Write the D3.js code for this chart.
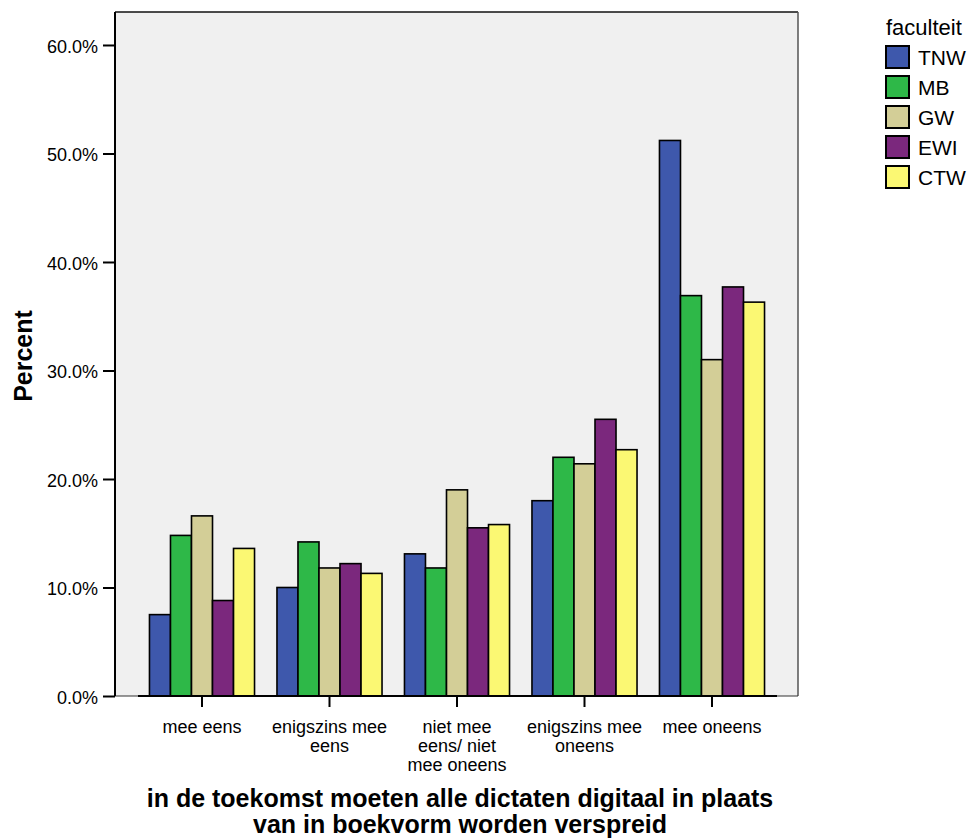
<!DOCTYPE html>
<html>
<head>
<meta charset="utf-8">
<script src="https://cdn.jsdelivr.net/npm/d3@7"></script>
<style>
  body { margin: 0; background: #fff; }
  text { font-family: Arial, "Liberation Sans", sans-serif; }
</style>
</head>
<body>
<svg id="chart" width="973" height="839"></svg>
<script>
const categories = [
  ["mee eens"],
  ["enigszins mee", "eens"],
  ["niet mee", "eens/ niet", "mee oneens"],
  ["enigszins mee", "oneens"],
  ["mee oneens"]
];
const categoryKeys = ["mee eens", "enigszins mee eens", "niet mee eens/ niet mee oneens", "enigszins mee oneens", "mee oneens"];
const seriesNames = ["TNW", "MB", "GW", "EWI", "CTW"];
const seriesColors = ["#3E58AC", "#2EB848", "#D3CE97", "#7B287D", "#FBF873"];
const TNW = [7.5, 10.0, 13.1, 18.0, 51.2];
const MB  = [14.8, 14.2, 11.8, 22.0, 36.9];
const GW  = [16.6, 11.8, 19.0, 21.4, 31.0];
const EWI = [8.8, 12.2, 15.5, 25.5, 37.7];
const CTW = [13.6, 11.3, 15.8, 22.7, 36.3];
const yTicks = [0, 10, 20, 30, 40, 50, 60];
const yTitle = "Percent";
const xTitle = ["in de toekomst moeten alle dictaten digitaal in plaats", "van in boekvorm worden verspreid"];
const legendTitle = "faculteit";

const seriesValues = [TNW, MB, GW, EWI, CTW];

const svg = d3.select("#chart");
const plot = { left: 115, right: 798, top: 12, bottom: 696 };

const y = d3.scaleLinear().domain([0, 63.04]).range([plot.bottom, plot.top]);
const x0 = d3.scaleBand().domain(categoryKeys).range([138.25, 775.75]).paddingInner(0.176).paddingOuter(0.088);
const x1 = d3.scaleBand().domain(seriesNames).range([0, x0.bandwidth()]);
const color = d3.scaleOrdinal().domain(seriesNames).range(seriesColors);

// background
svg.append("rect").attr("x", plot.left).attr("y", plot.top)
  .attr("width", plot.right - plot.left).attr("height", plot.bottom - plot.top)
  .attr("fill", "#F0F0F0");
// frame: top and right
svg.append("line").attr("x1", plot.left).attr("x2", plot.right).attr("y1", plot.top).attr("y2", plot.top)
  .attr("stroke", "#111").attr("stroke-width", 1.5);
svg.append("line").attr("x1", plot.right).attr("x2", plot.right).attr("y1", plot.top).attr("y2", plot.bottom)
  .attr("stroke", "#555").attr("stroke-width", 1.5);
svg.append("line").attr("x1", plot.left).attr("x2", plot.right).attr("y1", plot.bottom).attr("y2", plot.bottom)
  .attr("stroke", "#333").attr("stroke-width", 1);

// bars
const groups = svg.append("g").selectAll("g").data(categoryKeys).join("g")
  .attr("transform", d => `translate(${x0(d)},0)`);
groups.selectAll("rect").data((d, ci) => seriesNames.map((s, si) => ({ s, v: seriesValues[si][ci] })))
  .join("rect")
  .attr("x", d => x1(d.s))
  .attr("y", d => y(d.v))
  .attr("width", x1.bandwidth())
  .attr("height", d => y(0) - y(d.v))
  .attr("fill", d => color(d.s))
  .attr("stroke", "#000")
  .attr("stroke-width", 1.6);

// x baseline
svg.append("line").attr("x1", 138).attr("x2", 777).attr("y1", plot.bottom).attr("y2", plot.bottom)
  .attr("stroke", "#000").attr("stroke-width", 2);

// y axis
const yAxis = d3.axisLeft(y).tickValues(yTicks).tickSize(12).tickPadding(5)
  .tickFormat(d => d.toFixed(1) + "%");
const ya = svg.append("g").attr("transform", `translate(${plot.left},0)`).call(yAxis);
ya.attr("font-size", null).attr("font-family", null);
ya.select(".domain").attr("stroke", "#000").attr("stroke-width", 2).attr("d", `M0,${plot.top}V${plot.bottom}`);
ya.selectAll(".tick line").attr("stroke", "#000").attr("stroke-width", 2);
ya.selectAll(".tick text").attr("font-size", 18).attr("fill", "#000").attr("dy", "0.4em");

// x axis ticks and labels
const xa = svg.append("g");
categoryKeys.forEach((k, i) => {
  const cx = x0(k) + x0.bandwidth() / 2;
  xa.append("line").attr("x1", cx).attr("x2", cx).attr("y1", plot.bottom).attr("y2", plot.bottom + 11)
    .attr("stroke", "#000").attr("stroke-width", 2);
  const t = xa.append("text").attr("x", cx).attr("y", 733).attr("text-anchor", "middle")
    .attr("font-size", 18).attr("fill", "#000");
  categories[i].forEach((line, li) => {
    t.append("tspan").attr("x", cx).attr("dy", li === 0 ? 0 : 19).text(line);
  });
});

// axis titles
svg.append("text").attr("transform", "translate(32,356) rotate(-90)").attr("text-anchor", "middle")
  .attr("font-size", 25).attr("font-weight", "bold").attr("fill", "#000").text(yTitle);
const xt = svg.append("text").attr("x", 460).attr("y", 807).attr("text-anchor", "middle")
  .attr("font-size", 25).attr("font-weight", "bold").attr("fill", "#000");
xTitle.forEach((line, li) => xt.append("tspan").attr("x", 460).attr("dy", li === 0 ? 0 : 26).text(line));

// legend
const lg = svg.append("g");
lg.append("text").attr("x", 886).attr("y", 35).attr("font-size", 22).attr("fill", "#000").text(legendTitle);
seriesNames.forEach((s, i) => {
  const top = 46 + i * 30;
  lg.append("rect").attr("x", 886).attr("y", top).attr("width", 23).attr("height", 22)
    .attr("fill", color(s)).attr("stroke", "#000").attr("stroke-width", 2);
  lg.append("text").attr("x", 918).attr("y", top + 19).attr("font-size", 21).attr("fill", "#000").text(s);
});
</script>
</body>
</html>
